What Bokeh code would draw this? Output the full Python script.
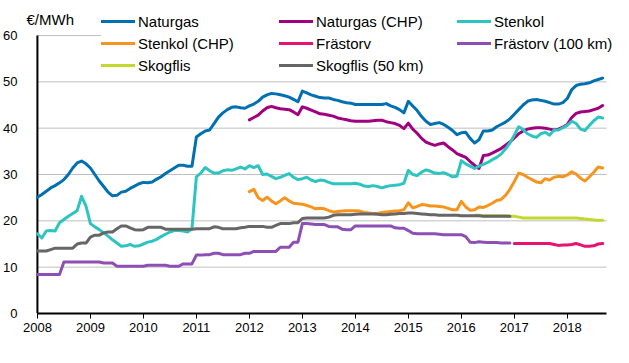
from bokeh.plotting import figure
from bokeh.models import Legend, LegendItem, Label, FixedTicker, Range1d, ColumnDataSource
from bokeh.embed import file_html
from bokeh.resources import INLINE

# ---------------- data (monthly, Jan 2008 = month 0) ----------------
years = list(range(2008, 2019))
year_labels = [str(y) for y in years]
y_ticks = [0, 10, 20, 30, 40, 50, 60]
unit_label = "€/MWh"

naturgas_start = 0
naturgas = [
    25.1, 25.7, 26.4, 27.1, 27.6, 28.2, 28.9, 30.0, 31.4, 32.5,
    32.9, 32.3, 31.4, 30.0, 28.6, 27.4, 26.2, 25.4, 25.5, 26.2,
    26.4, 27.0, 27.5, 28.0, 28.3, 28.2, 28.4, 29.0, 29.5, 30.2,
    30.8, 31.4, 32.0, 32.0, 31.8, 31.8, 38.1, 38.8, 39.4, 39.6,
    41.0, 42.4, 43.3, 44.0, 44.5, 44.6, 44.4, 44.3, 44.8, 45.2,
    45.8, 46.7, 47.2, 47.5, 47.4, 47.2, 47.0, 46.7, 46.2, 45.7,
    48.0, 47.6, 47.2, 46.9, 46.6, 46.5, 46.5, 46.2, 46.0, 45.7,
    45.5, 45.4, 45.1, 45.1, 45.1, 45.1, 45.1, 45.1, 45.1, 45.3,
    44.8, 44.5, 44.0, 43.3, 45.8, 44.8, 43.8, 42.5, 41.5, 40.8,
    41.0, 41.2, 40.8, 40.2, 39.5, 38.6, 39.0, 39.1, 37.8, 36.8,
    37.5, 39.4, 39.4, 39.6, 40.3, 40.8, 41.3, 42.0, 43.0, 44.0,
    45.0, 45.8, 46.1, 46.2, 46.0, 45.8, 45.5, 45.2, 45.2, 45.5,
    46.4, 48.3, 49.2, 49.5, 49.6, 49.8, 50.2, 50.5, 50.8,
]

naturgas_chp_start = 48
naturgas_chp = [
    41.8, 42.3, 42.8, 43.7, 44.4, 44.7, 44.4, 44.2, 44.1, 44.0,
    43.5, 42.9, 44.6, 44.3, 43.9, 43.5, 43.1, 43.0, 42.8, 42.6,
    42.2, 42.0, 41.8, 41.6, 41.5, 41.5, 41.5, 41.5, 41.6, 41.7,
    41.7, 41.4, 41.2, 41.0, 40.6, 39.9, 41.1, 39.8, 38.9, 37.8,
    37.0, 36.6, 36.3, 36.6, 36.8, 36.0, 35.3, 34.5, 34.1, 33.7,
    32.8, 32.0, 31.3, 34.1, 34.2, 34.6, 35.1, 35.6, 36.3, 37.0,
    37.9, 38.8, 39.4, 39.8, 40.0, 40.1, 40.1, 40.0, 39.8, 39.6,
    39.8, 40.2, 40.8, 42.3, 43.2, 43.5, 43.6, 43.7, 44.0, 44.3, 44.9,
]

stenkol_start = 0
stenkol = [
    17.2, 16.3, 17.8, 17.9, 17.8, 19.6, 20.3, 21.0, 21.6, 22.2,
    25.3, 23.2, 19.4, 18.7, 18.1, 17.4, 16.7, 15.9, 15.2, 14.5,
    14.6, 14.9, 14.5, 14.6, 15.0, 15.4, 15.6, 16.0, 16.6, 17.1,
    17.6, 17.9, 17.9, 17.8, 17.6, 18.3, 29.5, 30.3, 31.5, 30.8,
    30.3, 30.3, 30.8, 31.0, 30.9, 31.2, 31.6, 31.2, 31.9, 31.5,
    31.9, 30.0, 30.1, 29.6, 29.1, 29.4, 29.8, 30.2, 29.4, 28.9,
    29.1, 29.4, 28.8, 28.5, 28.8, 28.7, 28.3, 28.0, 28.0, 28.0,
    28.0, 28.0, 28.1, 27.9, 27.5, 27.4, 27.6, 27.4, 27.1, 27.4,
    27.6, 27.7, 27.8, 28.1, 30.9, 30.0, 29.8, 30.5, 31.0, 30.7,
    30.3, 30.2, 30.4, 30.0, 29.5, 29.6, 33.0, 32.3, 31.8, 31.3,
    31.8, 32.2, 32.6, 33.2, 33.7, 34.4, 35.5, 36.8, 38.5, 40.3,
    39.7, 38.8, 38.3, 38.0, 38.8, 39.1, 38.5, 39.6, 39.6, 40.1,
    40.6, 41.5, 41.0, 39.8, 39.5, 40.6, 41.6, 42.4, 42.2,
]

stenkol_chp_start = 48
stenkol_chp = [
    26.3, 26.8, 25.0, 24.4, 25.1, 24.3, 23.7, 24.3, 25.0, 24.3,
    23.8, 23.7, 23.6, 23.3, 23.0, 22.6, 22.7, 22.6, 22.2, 21.9,
    22.0, 22.1, 22.2, 22.2, 22.2, 22.1, 21.8, 21.7, 21.6, 21.6,
    21.8, 21.9, 22.0, 22.1, 22.2, 22.4, 23.9, 22.8, 23.1, 23.5,
    23.4, 23.2, 23.2, 23.1, 23.0, 22.7, 22.4, 22.4, 24.2, 23.0,
    22.3, 22.4, 23.0, 22.9, 23.3, 23.8, 24.4, 24.6, 25.5, 26.8,
    28.5, 30.3, 30.0, 29.4, 28.9, 28.4, 28.2, 29.1, 28.8, 29.4,
    29.6, 29.5, 29.9, 30.6, 30.1, 29.2, 28.6, 29.5, 30.5, 31.6, 31.4,
]

frastorv_start = 108
frastorv = [
    15.1, 15.1, 15.1, 15.1, 15.1, 15.1, 15.1, 15.1, 15.1, 14.9,
    14.7, 14.8, 14.8, 14.9, 15.1, 14.8, 14.5, 14.5, 14.6, 15.0, 15.1,
]

frastorv_100_start = 0
frastorv_100 = [
    8.4, 8.4, 8.4, 8.4, 8.4, 8.4, 11.1, 11.1, 11.1, 11.1,
    11.1, 11.1, 11.1, 11.1, 11.1, 10.9, 10.9, 10.9, 10.2, 10.2,
    10.2, 10.2, 10.2, 10.2, 10.2, 10.4, 10.4, 10.4, 10.4, 10.4,
    10.2, 10.2, 10.2, 10.7, 10.7, 10.7, 12.6, 12.6, 12.7, 12.7,
    13.0, 13.0, 12.7, 12.7, 12.7, 12.7, 12.7, 13.0, 13.0, 13.4,
    13.4, 13.4, 13.4, 13.4, 13.4, 14.3, 14.3, 14.3, 15.4, 15.4,
    19.4, 19.4, 19.3, 19.2, 19.2, 19.2, 18.8, 18.7, 18.7, 18.2,
    18.1, 18.1, 18.9, 18.9, 18.9, 18.9, 18.9, 18.9, 18.9, 18.9,
    18.9, 18.5, 18.4, 18.4, 17.9, 17.3, 17.2, 17.2, 17.2, 17.2,
    17.2, 17.1, 17.0, 17.0, 17.0, 17.0, 17.0, 16.6, 15.4, 15.3,
    15.5, 15.4, 15.3, 15.3, 15.3, 15.2, 15.2, 15.2,
]

skogflis_start = 99
skogflis = [
    21.2, 21.2, 21.1, 21.1, 21.1, 21.1, 21.1, 21.1, 21.0,
    21.0, 20.8, 20.6, 20.6, 20.6, 20.6, 20.6, 20.6, 20.6, 20.6,
    20.6, 20.6, 20.6, 20.6, 20.6, 20.5, 20.4, 20.3, 20.2, 20.1, 20.1,
]

skogflis_50_start = 0
skogflis_50 = [
    13.5, 13.5, 13.5, 13.8, 14.1, 14.1, 14.1, 14.1, 14.1, 15.0,
    15.2, 15.2, 16.5, 16.9, 16.9, 17.4, 17.6, 17.6, 18.3, 18.9,
    18.9, 18.5, 18.1, 18.0, 18.1, 18.6, 18.6, 18.6, 18.6, 18.2,
    18.2, 18.2, 18.2, 18.2, 18.2, 18.2, 18.3, 18.3, 18.3, 18.3,
    18.7, 18.6, 18.3, 18.3, 18.3, 18.3, 18.5, 18.6, 18.8, 18.8,
    18.8, 18.8, 18.6, 18.6, 19.0, 19.4, 19.4, 19.4, 19.6, 19.6,
    20.5, 20.6, 20.6, 20.6, 20.6, 20.6, 20.8, 21.2, 21.3, 21.3,
    21.3, 21.3, 21.4, 21.5, 21.5, 21.5, 21.5, 21.4, 21.3, 21.3,
    21.4, 21.5, 21.6, 21.6, 21.7, 21.7, 21.6, 21.5, 21.4, 21.3,
    21.3, 21.2, 21.2, 21.2, 21.2, 21.2, 21.1, 21.1, 21.1, 21.1,
    21.1, 21.0, 21.0, 21.0, 21.0, 21.0, 21.0, 21.0,
]

series = [
    ("Naturgas", naturgas_start, naturgas, "#0070b0"),
    ("Naturgas (CHP)", naturgas_chp_start, naturgas_chp, "#a0007e"),
    ("Stenkol", stenkol_start, stenkol, "#2ec4c0"),
    ("Stenkol (CHP)", stenkol_chp_start, stenkol_chp, "#f7941d"),
    ("Frästorv", frastorv_start, frastorv, "#e6146e"),
    ("Frästorv (100 km)", frastorv_100_start, frastorv_100, "#8e4fb5"),
    ("Skogflis", skogflis_start, skogflis, "#c3d82e"),
    ("Skogflis (50 km)", skogflis_50_start, skogflis_50, "#666666"),
]

FONT = "Liberation Sans"

# ---------------- layout ----------------
W, H = 629, 363
PX_PER_YEAR = 53.34          # horizontal scale
PX_PER_UNIT = 278 / 60.0     # vertical scale
AXIS_X = 33                  # pixel position of the value axis (year 2008)
AXIS_END_X = 606             # pixel where the time axis ends
F_LEFT, F_TOP, F_RIGHT, F_BOTTOM = 21, 5, 626, 313

x_start = years[0] - (AXIS_X - F_LEFT) / PX_PER_YEAR
x_end = years[0] + (F_RIGHT - AXIS_X) / PX_PER_YEAR
x_axis_end = years[0] + (AXIS_END_X - AXIS_X) / PX_PER_YEAR
y_top = (F_BOTTOM - F_TOP) / PX_PER_UNIT

p = figure(width=W, height=H, output_backend="svg", toolbar_location=None,
           x_range=Range1d(x_start, x_end), y_range=Range1d(0, y_top),
           min_border_left=F_LEFT, min_border_right=W - F_RIGHT,
           min_border_top=F_TOP, min_border_bottom=H - F_BOTTOM)
p.outline_line_color = None
p.background_fill_color = "white"
p.border_fill_color = "white"

p.xgrid.grid_line_color = None
p.ygrid.grid_line_color = None

# horizontal gridlines, starting at the value axis
grid_vals = [v for v in y_ticks if v > 0]
p.segment(x0=[years[0]] * len(grid_vals), x1=[x_axis_end] * len(grid_vals),
          y0=grid_vals, y1=grid_vals, line_color="#bfbfbf", line_width=1,
          level="underlay")

# value axis: labels from Bokeh axis, line drawn at year 2008
p.yaxis.ticker = FixedTicker(ticks=y_ticks)
p.yaxis.axis_line_color = None
p.yaxis.major_tick_line_color = None
p.yaxis.minor_tick_line_color = None
p.yaxis.major_label_standoff = 2
p.yaxis.major_label_text_font = FONT
p.yaxis.major_label_text_font_size = "13px"
p.yaxis.major_label_text_color = "black"
p.segment(x0=[years[0]], x1=[years[0]], y0=[y_ticks[0]], y1=[y_ticks[-1]],
          line_color="black", line_width=2)

p.xaxis.ticker = FixedTicker(ticks=years)
p.xaxis.bounds = (years[0], x_axis_end)
p.xaxis.major_label_overrides = {y: lab for y, lab in zip(years, year_labels)}
p.xaxis.axis_line_color = "black"
p.xaxis.axis_line_width = 2
p.xaxis.major_tick_line_color = "black"
p.xaxis.major_tick_line_width = 1
p.xaxis.major_tick_out = 5
p.xaxis.major_tick_in = 0
p.xaxis.minor_tick_line_color = None
p.xaxis.major_label_standoff = 4
p.xaxis.major_label_text_font = FONT
p.xaxis.major_label_text_font_size = "13px"
p.xaxis.major_label_text_color = "black"

items = []
for name, start, vals, color in series:
    xs = [years[0] + (start + i) / 12 for i in range(len(vals))]
    src = ColumnDataSource(dict(x=xs, y=vals))
    r = p.line("x", "y", source=src, line_color=color, line_width=3,
               line_join="round", line_cap="round")
    items.append(LegendItem(label=name, renderers=[r]))

legend = Legend(items=items, orientation="horizontal", ncols=3,
                location=(97 - F_LEFT, F_BOTTOM - 76), glyph_width=34,
                glyph_height=22, label_height=22, label_width=141,
                label_standoff=3, spacing=0, padding=0, margin=0,
                label_text_font=FONT, label_text_font_size="15px",
                label_text_color="black", label_text_baseline="middle",
                background_fill_color="white", background_fill_alpha=1.0,
                border_line_color=None)
p.add_layout(legend, "center")

p.add_layout(Label(x=22 - F_LEFT, y=F_BOTTOM - 19, x_units="screen",
                   y_units="screen", text=unit_label, text_font=FONT,
                   text_font_size="15px", text_color="black",
                   text_baseline="middle"))

open("out.html", "w").write(file_html(p, INLINE))
